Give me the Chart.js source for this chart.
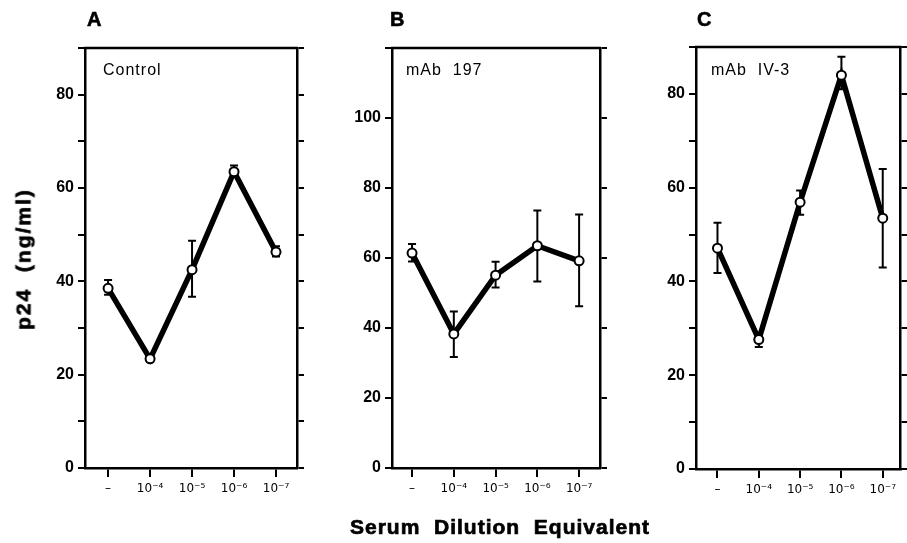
<!DOCTYPE html>
<html>
<head>
<meta charset="utf-8">
<script src="https://cdn.jsdelivr.net/npm/chart.js@4.4.1/dist/chart.umd.min.js"></script>
<style>
  html, body { margin: 0; padding: 0; background: #fff; }
  #wrap { position: relative; width: 907px; height: 543px; overflow: hidden; background: #fff; }
  canvas { position: absolute; top: 0; }
  .t { position: absolute; color: #000; font-family: "Liberation Sans", Arial, sans-serif; white-space: pre; line-height: 1; }
  .panel { font-weight: bold; font-size: 20px; -webkit-text-stroke: 0.6px #000; }
  .inner { font-size: 16px; letter-spacing: 1px; }
  .axt { font-weight: bold; font-size: 21px; -webkit-text-stroke: 0.7px #000; }
</style>
</head>
<body>
<div id="wrap">
  <canvas id="cA" width="310" height="543" style="left:0px"></canvas>
  <canvas id="cB" width="300" height="543" style="left:310px"></canvas>
  <canvas id="cC" width="297" height="543" style="left:610px"></canvas>
  <div class="t panel" style="left:87px; top:9px;">A</div>
  <div class="t panel" style="left:390px; top:9px;">B</div>
  <div class="t panel" style="left:697px; top:9px;">C</div>
  <div class="t inner" style="left:103px; top:62px;">Control</div>
  <div class="t inner" style="left:406px; top:62px;">mAb  197</div>
  <div class="t inner" style="left:711px; top:62px;">mAb  IV-3</div>
  <div class="t axt" id="ytitle" style="left:23px; top:259px; letter-spacing:2px; transform: translate(-50%,-50%) rotate(-90deg);">p24  (ng/ml)</div>
  <div class="t axt" id="xtitle" style="left:500px; top:526px; letter-spacing:1px; transform: translate(-50%,-50%);">Serum  Dilution  Equivalent</div>
</div>
<script>
// ---- data ----
const categories = ["\u2013", "10\u207B\u2074", "10\u207B\u2075", "10\u207B\u2076", "10\u207B\u2077"];

const controlMean  = [38.5, 23.4, 42.5, 63.5, 46.3];
const controlUpper = [40.3, 24.0, 48.7, 64.8, 47.5];
const controlLower = [37.1, 22.8, 36.7, 62.5, 45.3];

const mab197Mean  = [61.4, 38.3, 55.1, 63.5, 59.2];
const mab197Upper = [64.0, 44.7, 58.9, 73.6, 72.4];
const mab197Lower = [59.0, 31.7, 51.6, 53.3, 46.2];

const mabIV3Mean  = [47.1, 27.6, 56.9, 84.0, 53.5];
const mabIV3Upper = [52.5, 28.7, 59.4, 87.9, 64.0];
const mabIV3Lower = [41.8, 26.0, 54.2, 81.0, 43.0];

const yTicksA = [0, 20, 40, 60, 80];
const yTicksB = [0, 20, 40, 60, 80, 100];
const yTicksC = [0, 20, 40, 60, 80];

// ---- plugins ----
const errorBars = {
  id: 'errorBars',
  beforeDatasetsDraw(chart, args, opts) {
    const ctx = chart.ctx, xs = chart.scales.x, ys = chart.scales.y;
    ctx.save();
    ctx.strokeStyle = '#000';
    ctx.lineWidth = 2;
    opts.upper.forEach((u, i) => {
      const l = opts.lower[i];
      const px = xs.getPixelForValue(i);
      const pu = ys.getPixelForValue(u), pl = ys.getPixelForValue(l);
      ctx.beginPath();
      ctx.moveTo(px, pu); ctx.lineTo(px, pl);
      ctx.moveTo(px - 4, pu); ctx.lineTo(px + 4, pu);
      ctx.moveTo(px - 4, pl); ctx.lineTo(px + 4, pl);
      ctx.stroke();
    });
    ctx.restore();
  }
};
const topBorder = {
  id: 'topBorder',
  afterDraw(chart) {
    const a = chart.chartArea, ctx = chart.ctx;
    ctx.save();
    ctx.strokeStyle = '#000';
    ctx.lineWidth = 2.5;
    ctx.beginPath();
    ctx.moveTo(a.left - 1, a.top); ctx.lineTo(a.right + 1, a.top);
    ctx.stroke();
    ctx.restore();
  }
};

function makePanel(id, mean, upper, lower, labelTicks, cfg) {
  const tickFont = { family: '"Liberation Sans", Arial, sans-serif', size: 16, weight: 'bold' };
  const pts = categories.map((c, i) => ({ x: i, y: mean[i] }));
  return new Chart(document.getElementById(id), {
    type: 'line',
    data: { datasets: [{
      data: pts,
      borderColor: '#000', borderWidth: 5.5, tension: 0,
      pointRadius: 4.5, pointBorderWidth: 2, pointBackgroundColor: '#fff', pointBorderColor: '#000',
      pointHoverRadius: 4.5
    }]},
    options: {
      responsive: false, animation: false, devicePixelRatio: 1,
      layout: { padding: { top: cfg.top, left: 0, right: 0, bottom: 0 } },
      plugins: { legend: { display: false }, tooltip: { enabled: false },
                 errorBars: { upper, lower } },
      scales: {
        x: {
          type: 'linear', min: cfg.xmin, max: cfg.xmax,
          afterBuildTicks: s => { s.ticks = categories.map((c, i) => ({ value: i })); },
          afterFit: s => { s.height = cfg.xh; },
          ticks: { callback: v => categories[v], color: '#000', font: { family: '"DejaVu Sans", sans-serif', size: 12 }, padding: 5, maxRotation: 0, autoSkip: false },
          grid: { drawOnChartArea: false, drawTicks: true, tickLength: 9, color: '#000', lineWidth: 2 },
          border: { display: true, color: '#000', width: 2.5 }
        },
        y: {
          type: 'linear', position: 'left', min: 0, max: cfg.ymax,
          afterFit: s => { s.width = cfg.yw; },
          ticks: { stepSize: cfg.step, color: '#000', font: tickFont, padding: 4,
                   callback: v => labelTicks.includes(v) ? String(v) : '' },
          grid: { drawOnChartArea: false, drawTicks: true, tickLength: 7, color: '#000', lineWidth: 2 },
          border: { display: true, color: '#000', width: 2.5 }
        },
        y2: {
          type: 'linear', position: 'right', min: 0, max: cfg.ymax,
          afterFit: s => { s.width = cfg.y2w; },
          ticks: { stepSize: cfg.step, callback: () => '', padding: 0 },
          grid: { drawOnChartArea: false, drawTicks: true, tickLength: 7, color: '#000', lineWidth: 2 },
          border: { display: true, color: '#000', width: 2.5 }
        }
      }
    },
    plugins: [errorBars, topBorder]
  });
}

// chart areas: A 85..297, B 392..600, C 696..905 ; top 48, bottom 468
makePanel('cA', controlMean, controlUpper, controlLower, yTicksA,
  { top: 48, xh: 75, yw: 85, y2w: 13, ymax: 90, step: 10, xmin: -0.55, xmax: 4.5 });
makePanel('cB', mab197Mean, mab197Upper, mab197Lower, yTicksB,
  { top: 48, xh: 75, yw: 82, y2w: 10, ymax: 120, step: 20, xmin: -0.48, xmax: 4.5 });
makePanel('cC', mabIV3Mean, mabIV3Upper, mabIV3Lower, yTicksC,
  { top: 47, xh: 74, yw: 86, y2w: 2, ymax: 90, step: 10, xmin: -0.52, xmax: 4.43 });
</script>
</body>
</html>
